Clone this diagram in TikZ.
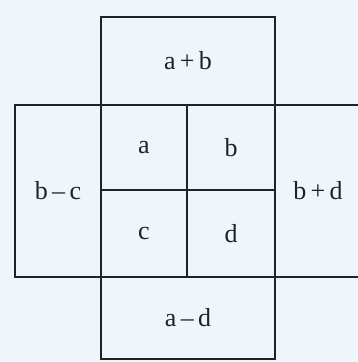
\documentclass[tikz,border=0pt]{standalone}
\usepackage{xcolor}
\usepackage{fontspec}
\setmainfont{Liberation Serif}
\usetikzlibrary{positioning}
\definecolor{paper}{HTML}{EEF6FC}
\definecolor{ink}{HTML}{222222}

\begin{document}
\begin{tikzpicture}[
    x=1pt, y=-1pt,
    cell/.style={rectangle, draw=ink, line width=2.2pt, inner sep=0pt, align=center, text=ink, font=\fontsize{26}{29}\selectfont}
]
% Frame
\fill[paper] (0,0) rectangle (358,362);
\clip (0,0) rectangle (358,362);

% Centre square
\node[cell, minimum width=86pt, minimum height=85pt] (a) at (144,147.5) {a};
\node[cell, minimum width=88pt, minimum height=85pt] (b) at (231,147.5) {b};
\node[cell, minimum width=86pt, minimum height=87pt] (c) at (144,233.5) {c};
\node[cell, minimum width=88pt, minimum height=87pt] (d) at (231,233.5) {d};

% Sums and differences around it
\node[cell, minimum width=174pt, minimum height=88pt] (sumab) at (188,61) {a\,+\,b};
\node[cell, minimum width=86pt, minimum height=172pt] (diffbc) at (58,191) {b\,\textendash\,c};
\node[cell, minimum width=86pt, minimum height=172pt] (sumbd) at (318,191) {b\,+\,d};
\node[cell, minimum width=174pt, minimum height=82pt] (diffad) at (188,318) {a\,\textendash\,d};

\end{tikzpicture}
\end{document}
